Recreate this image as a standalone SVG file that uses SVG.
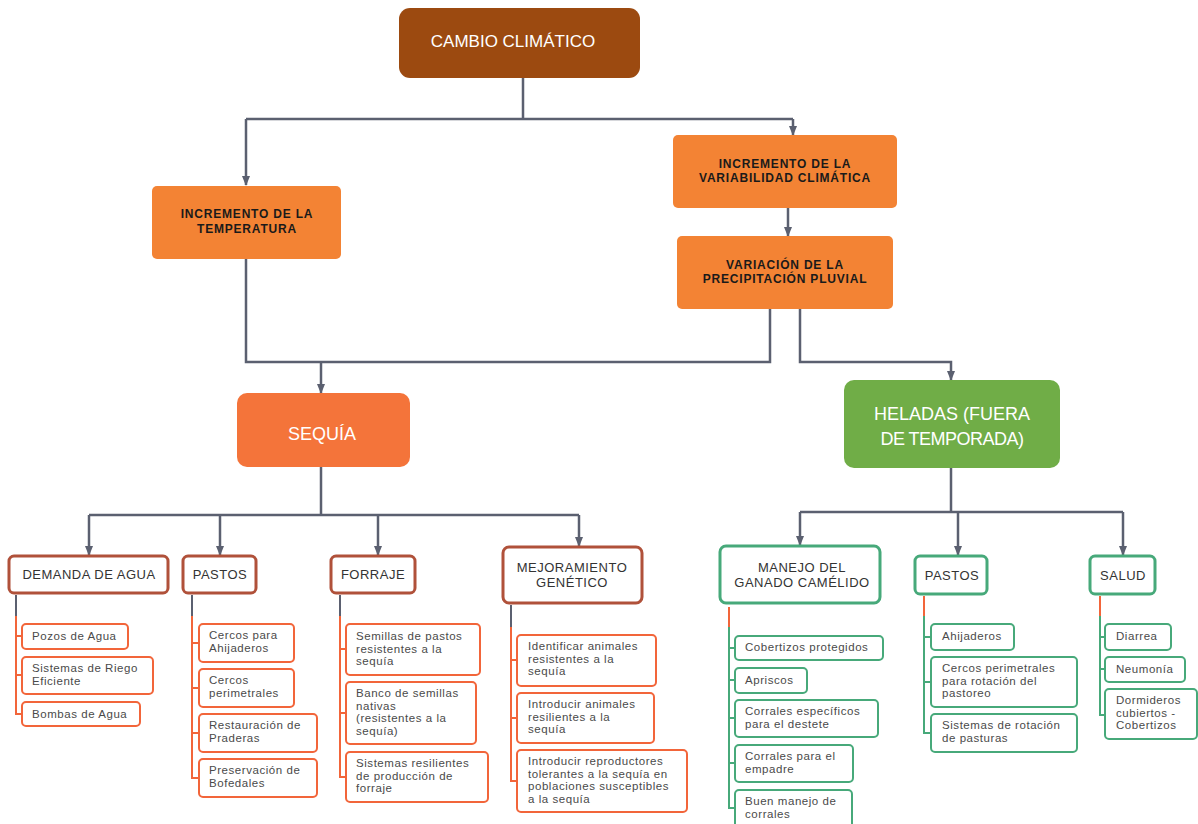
<svg xmlns="http://www.w3.org/2000/svg" width="1198" height="824" viewBox="0 0 1198 824">
<defs>
<marker id="arr" markerWidth="10" markerHeight="8" refX="9" refY="4" orient="auto" markerUnits="userSpaceOnUse">
<path d="M0,0 L10,4 L0,8 Z" fill="#5b6070"/>
</marker>
<style>
.con{fill:none;stroke:#5b6070;stroke-width:2.5}
.gl{fill:none;stroke:#5b6070;stroke-width:2}
.ol{fill:none;stroke:#f2653a;stroke-width:2}
.grl{fill:none;stroke:#47a97a;stroke-width:2}
.big{font-family:"Liberation Sans",Arial,sans-serif;fill:#fff;text-anchor:middle}
.hdr{font-family:"Liberation Sans",Arial,sans-serif;font-weight:bold;font-size:12px;letter-spacing:0.8px;fill:#1a1a1a;text-anchor:middle}
.cat{font-family:"Liberation Sans",Arial,sans-serif;font-size:13px;letter-spacing:0.5px;fill:#333;text-anchor:middle}
.lf{font-family:"Liberation Sans",Arial,sans-serif;font-size:11.5px;letter-spacing:0.55px;fill:#4a4a4a}
.cb{fill:#fff;stroke:#b0513a;stroke-width:3}
.gb{fill:#fff;stroke:#47a97a;stroke-width:3}
.lo{fill:#fff;stroke:#f2653a;stroke-width:2}
.lg{fill:#fff;stroke:#47a97a;stroke-width:2}
</style>
</defs>
<rect width="1198" height="824" fill="#fff"/>

<g id="connectors">
<path class="con" d="M523,78 V119 M246,119 H793"/>
<path class="con" d="M246,119 V185" marker-end="url(#arr)"/>
<path class="con" d="M793,119 V135" marker-end="url(#arr)"/>
<path class="con" d="M788,208 V236" marker-end="url(#arr)"/>
<path class="con" d="M246,259 V362 H770 V309"/>
<path class="con" d="M321,362 V393" marker-end="url(#arr)"/>
<path class="con" d="M800,309 V362 H951 V380" marker-end="url(#arr)"/>
<path class="con" d="M321,467 V515 M89,515 H579"/>
<path class="con" d="M89,515 V555" marker-end="url(#arr)"/>
<path class="con" d="M220,515 V555" marker-end="url(#arr)"/>
<path class="con" d="M378,515 V555" marker-end="url(#arr)"/>
<path class="con" d="M579,515 V546" marker-end="url(#arr)"/>
<path class="con" d="M951,468 V512 M800,512 H1123"/>
<path class="con" d="M800,512 V545" marker-end="url(#arr)"/>
<path class="con" d="M958,512 V555" marker-end="url(#arr)"/>
<path class="con" d="M1123,512 V555" marker-end="url(#arr)"/>
<path class="gl" d="M16,595 V616"/>
<path class="ol" d="M16,616 V714 H22 M16,636 H22 M16,675 H22"/>
<path class="gl" d="M192,595 V616"/>
<path class="ol" d="M192,616 V778 H199 M192,643 H199 M192,688 H199 M192,733 H199"/>
<path class="gl" d="M340,595 V616"/>
<path class="ol" d="M340,616 V777 H346 M340,649 H346 M340,713 H346"/>
<path class="gl" d="M511,605 V627"/>
<path class="ol" d="M511,627 V781 H517 M511,660 H517 M511,718 H517"/>
<path class="ol" d="M729,607 V627"/>
<path class="grl" d="M729,627 V808 H735 M729,648 H735 M729,680 H735 M729,718 H735 M729,763 H735"/>
<path class="ol" d="M924,596 V616"/>
<path class="grl" d="M924,616 V733 H931 M924,637 H931 M924,682 H931"/>
<path class="ol" d="M1100,596 V616"/>
<path class="grl" d="M1100,616 V715 H1105 M1100,637 H1105 M1100,669 H1105"/>
</g>

<g id="cambio">
<rect x="399" y="8" width="241" height="70" rx="11" fill="#9c4a10"/>
<text class="big" x="513" y="47" font-size="17">CAMBIO CLIMÁTICO</text>
</g>
<g id="inc-temp">
<rect x="152" y="186" width="189" height="73" rx="5" fill="#f38334"/>
<text class="hdr" x="247" y="218">INCREMENTO DE LA</text>
<text class="hdr" x="247" y="233">TEMPERATURA</text>
</g>
<g id="inc-var">
<rect x="673" y="135" width="224" height="73" rx="5" fill="#f38334"/>
<text class="hdr" x="785" y="168">INCREMENTO DE LA</text>
<text class="hdr" x="785" y="182">VARIABILIDAD CLIMÁTICA</text>
</g>
<g id="var-prec">
<rect x="677" y="236" width="216" height="73" rx="5" fill="#f38334"/>
<text class="hdr" x="785" y="269">VARIACIÓN DE LA</text>
<text class="hdr" x="785" y="283">PRECIPITACIÓN PLUVIAL</text>
</g>
<g id="sequia">
<rect x="237" y="393" width="173" height="74" rx="10" fill="#f4743a"/>
<text class="big" x="322" y="440" font-size="18">SEQUÍA</text>
</g>
<g id="heladas">
<rect x="844" y="380" width="216" height="88" rx="10" fill="#70ad47"/>
<text class="big" x="952" y="420" font-size="18">HELADAS (FUERA</text>
<text class="big" x="952" y="445" font-size="18" letter-spacing="-0.5">DE TEMPORADA)</text>
</g>

<g id="demanda">
<rect class="cb" x="9" y="556" width="159" height="37" rx="5"/>
<text class="cat" x="89" y="579">DEMANDA DE AGUA</text>
</g>
<g id="pastos-l">
<rect class="cb" x="183" y="556" width="73" height="37" rx="5"/>
<text class="cat" x="220" y="579">PASTOS</text>
</g>
<g id="forraje">
<rect class="cb" x="331" y="556" width="84" height="37" rx="5"/>
<text class="cat" x="373" y="579">FORRAJE</text>
</g>
<g id="mejoramiento">
<rect class="cb" x="503" y="547" width="139" height="56" rx="6" stroke-width="4"/>
<text class="cat" x="572" y="572">MEJORAMIENTO</text>
<text class="cat" x="572" y="587">GENÉTICO</text>
</g>
<g id="manejo">
<rect class="gb" x="720" y="546" width="160" height="57" rx="6" stroke-width="4"/>
<text class="cat" x="802" y="572">MANEJO DEL</text>
<text class="cat" x="802" y="587">GANADO CAMÉLIDO</text>
</g>
<g id="pastos-r">
<rect class="gb" x="915" y="556" width="72" height="38" rx="5"/>
<text class="cat" x="952" y="580">PASTOS</text>
</g>
<g id="salud">
<rect class="gb" x="1090" y="556" width="65" height="38" rx="5"/>
<text class="cat" x="1123" y="580">SALUD</text>
</g>

<g id="l-pozos"><rect class="lo" x="22" y="624" width="106" height="25" rx="4"/><text class="lf" x="32" y="640">Pozos de Agua</text></g>
<g id="l-riego"><rect class="lo" x="22" y="657" width="131" height="37" rx="4"/><text class="lf" x="32" y="672">Sistemas de Riego</text><text class="lf" x="32" y="685">Eficiente</text></g>
<g id="l-bombas"><rect class="lo" x="22" y="702" width="118" height="24" rx="4"/><text class="lf" x="32" y="718">Bombas de Agua</text></g>
<g id="l-cercos-ahi"><rect class="lo" x="199" y="624" width="95" height="38" rx="4"/><text class="lf" x="209" y="639">Cercos para</text><text class="lf" x="209" y="652">Ahijaderos</text></g>
<g id="l-cercos-per"><rect class="lo" x="199" y="669" width="95" height="38" rx="4"/><text class="lf" x="209" y="684">Cercos</text><text class="lf" x="209" y="697">perimetrales</text></g>
<g id="l-restauracion"><rect class="lo" x="199" y="714" width="118" height="38" rx="4"/><text class="lf" x="209" y="729">Restauración de</text><text class="lf" x="209" y="742">Praderas</text></g>
<g id="l-preservacion"><rect class="lo" x="199" y="759" width="118" height="38" rx="4"/><text class="lf" x="209" y="774">Preservación de</text><text class="lf" x="209" y="787">Bofedales</text></g>
<g id="l-semillas"><rect class="lo" x="346" y="624" width="134" height="51" rx="4"/><text class="lf" x="356" y="640">Semillas de pastos</text><text class="lf" x="356" y="652.5">resistentes a la</text><text class="lf" x="356" y="665">sequía</text></g>
<g id="l-banco"><rect class="lo" x="346" y="682" width="130" height="62" rx="4"/><text class="lf" x="356" y="697">Banco de semillas</text><text class="lf" x="356" y="709.5">nativas</text><text class="lf" x="356" y="722">(resistentes a la</text><text class="lf" x="356" y="734.5">sequía)</text></g>
<g id="l-sistemas-res"><rect class="lo" x="346" y="752" width="142" height="50" rx="4"/><text class="lf" x="356" y="767">Sistemas resilientes</text><text class="lf" x="356" y="779.5">de producción de</text><text class="lf" x="356" y="792">forraje</text></g>
<g id="l-identificar"><rect class="lo" x="517" y="635" width="139" height="51" rx="4"/><text class="lf" x="528" y="650">Identificar animales</text><text class="lf" x="528" y="662.5">resistentes a la</text><text class="lf" x="528" y="675">sequía</text></g>
<g id="l-introducir"><rect class="lo" x="517" y="693" width="137" height="50" rx="4"/><text class="lf" x="528" y="708">Introducir animales</text><text class="lf" x="528" y="720.5">resilientes a la</text><text class="lf" x="528" y="733">sequía</text></g>
<g id="l-reproductores"><rect class="lo" x="517" y="750" width="170" height="62" rx="4"/><text class="lf" x="528" y="765">Introducir reproductores</text><text class="lf" x="528" y="777.5">tolerantes a la sequía en</text><text class="lf" x="528" y="790">poblaciones susceptibles</text><text class="lf" x="528" y="802.5">a la sequía</text></g>
<g id="l-cobertizos"><rect class="lg" x="735" y="636" width="148" height="24" rx="4"/><text class="lf" x="745" y="651">Cobertizos protegidos</text></g>
<g id="l-apriscos"><rect class="lg" x="735" y="668" width="72" height="25" rx="4"/><text class="lf" x="745" y="684">Apriscos</text></g>
<g id="l-corrales-dest"><rect class="lg" x="735" y="700" width="143" height="37" rx="4"/><text class="lf" x="745" y="715">Corrales específicos</text><text class="lf" x="745" y="727.5">para el destete</text></g>
<g id="l-corrales-emp"><rect class="lg" x="735" y="745" width="118" height="37" rx="4"/><text class="lf" x="745" y="760">Corrales para el</text><text class="lf" x="745" y="772.5">empadre</text></g>
<g id="l-buen"><rect class="lg" x="735" y="790" width="117" height="40" rx="4"/><text class="lf" x="745" y="805">Buen manejo de</text><text class="lf" x="745" y="817.5">corrales</text></g>
<g id="l-ahijaderos"><rect class="lg" x="931" y="624" width="83" height="26" rx="4"/><text class="lf" x="942" y="640">Ahijaderos</text></g>
<g id="l-cercos-rot"><rect class="lg" x="931" y="657" width="146" height="50" rx="4"/><text class="lf" x="942" y="672">Cercos perimetrales</text><text class="lf" x="942" y="684.5">para rotación del</text><text class="lf" x="942" y="697">pastoreo</text></g>
<g id="l-sist-rot"><rect class="lg" x="931" y="714" width="146" height="38" rx="4"/><text class="lf" x="942" y="729">Sistemas de rotación</text><text class="lf" x="942" y="741.5">de pasturas</text></g>
<g id="l-diarrea"><rect class="lg" x="1105" y="624" width="66" height="26" rx="4"/><text class="lf" x="1116" y="640">Diarrea</text></g>
<g id="l-neumonia"><rect class="lg" x="1105" y="657" width="80" height="25" rx="4"/><text class="lf" x="1116" y="673">Neumonía</text></g>
<g id="l-dormideros"><rect class="lg" x="1105" y="689" width="92" height="50" rx="4"/><text class="lf" x="1116" y="704">Dormideros</text><text class="lf" x="1116" y="716.5">cubiertos -</text><text class="lf" x="1116" y="729">Cobertizos</text></g>
</svg>
